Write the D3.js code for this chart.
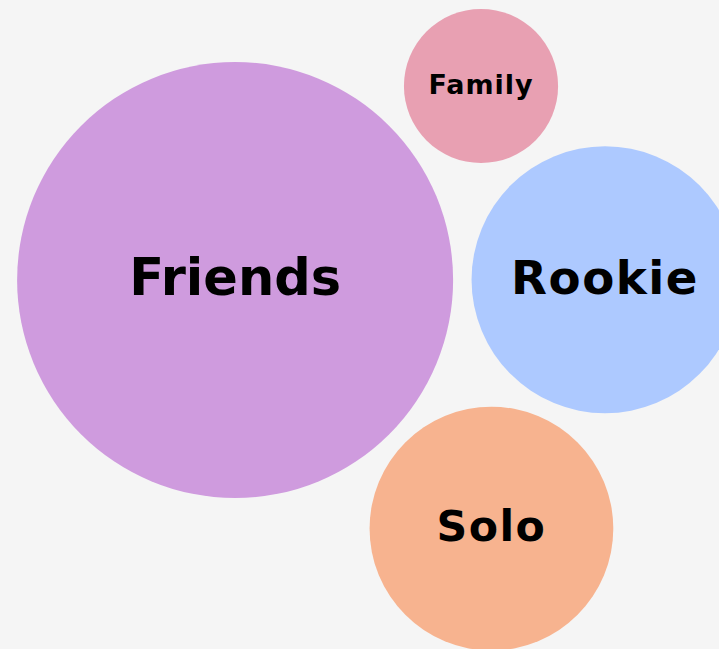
<!DOCTYPE html>
<html>
<head>
<meta charset="utf-8">
<script src="https://cdn.jsdelivr.net/npm/d3@7"></script>
<style>
  html, body { margin: 0; padding: 0; background: #f5f5f5; overflow: hidden; }
  svg { display: block; }
</style>
</head>
<body>
<svg id="chart"></svg>
<script>
// Data
const categories = ["Friends", "Family", "Rookie", "Solo"];
const values     = [48, 6, 18, 15];
// Layout positions (relative, 0..1 of the drawing area)
const layoutX    = [0.327, 0.669, 0.8415, 0.6835];
const layoutY    = [0.4315, 0.1325, 0.431, 0.8145];
const colors     = ["#cf9bde", "#e8a0b2", "#adc9ff", "#f7b38f"];

const width = 719, height = 649;
const svg = d3.select("#chart").attr("width", width).attr("height", height);
svg.append("rect").attr("width", width).attr("height", height).attr("fill", "#f5f5f5");

const x = d3.scaleLinear().domain([0, 1]).range([0, width]);
const y = d3.scaleLinear().domain([0, 1]).range([0, height]);
const r = d3.scaleSqrt().domain([0, d3.max(values)]).range([0, 218]);
const color = d3.scaleOrdinal().domain(categories).range(colors);

const data = categories.map((c, i) => ({ name: c, value: values[i], px: layoutX[i], py: layoutY[i] }));

const g = svg.selectAll("g.bubble").data(data).join("g")
  .attr("class", "bubble")
  .attr("transform", d => `translate(${x(d.px)},${y(d.py)})`);

g.append("circle")
  .attr("r", d => r(d.value))
  .attr("fill", d => color(d.name));

g.append("text")
  .attr("text-anchor", "middle")
  .attr("dy", "0.3em")
  .attr("font-family", "'DejaVu Sans', sans-serif")
  .attr("font-weight", "bold")
  .attr("font-size", d => Math.min(r(d.value) * 0.35, 51) + "px")
  .attr("letter-spacing", d => r(d.value) < 100 ? "1px" : (r(d.value) < 200 ? "1.5px" : "0px"))
  .attr("fill", "#000")
  .text(d => d.name);
</script>
</body>
</html>
